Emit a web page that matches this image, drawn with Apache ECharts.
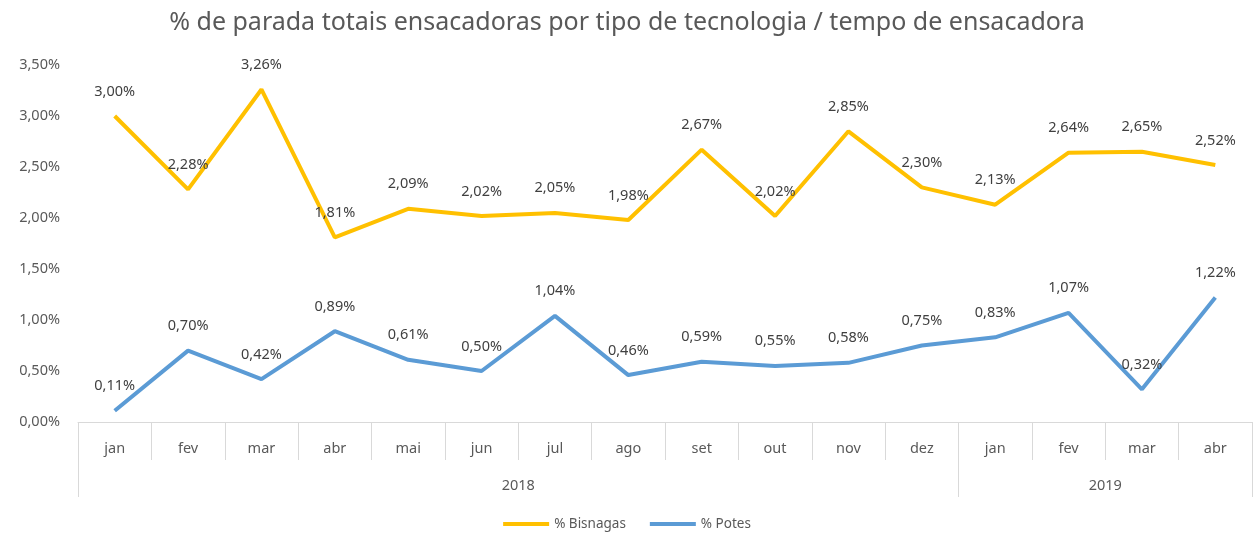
<!DOCTYPE html>
<html><head><meta charset="utf-8">
<script src="https://cdn.jsdelivr.net/npm/echarts@6/dist/echarts.min.js"></script>
<style>html,body{margin:0;padding:0;background:#fff}#c{width:1254px;height:537px}</style>
</head><body><div id="c"></div>
<script>
const months = ['jan','fev','mar','abr','mai','jun','jul','ago','set','out','nov','dez','jan','fev','mar','abr'];
const years = ['2018','2019'];
const yearStarts = [0, 12, 16];
const bisnagas = [3.00,2.28,3.26,1.81,2.09,2.02,2.05,1.98,2.67,2.02,2.85,2.30,2.13,2.64,2.65,2.52];
const potes = [0.11,0.70,0.42,0.89,0.61,0.50,1.04,0.46,0.59,0.55,0.58,0.75,0.83,1.07,0.32,1.22];

const FONT = '"Noto Sans", "Open Sans", sans-serif';
const fmt = v => v.toFixed(2).replace('.', ',') + '%';
const chart = echarts.init(document.getElementById('c'));
const lbl = {show: true, position: 'top', distance: 17, formatter: p => fmt(p.value), fontFamily: FONT, fontSize: 14.5, color: '#404040'};
chart.setOption({
  animation: false,
  title: {text: '% de parada totais ensacadoras por tipo de tecnologia / tempo de ensacadora', left: 'center', top: 5,
    textStyle: {fontFamily: FONT, fontSize: 25, fontWeight: 'normal', color: '#595959'}},
  legend: {bottom: 1, left: 'center', itemWidth: 46, itemHeight: 4, itemGap: 24, icon: 'rect',
    textStyle: {fontFamily: FONT, fontSize: 13.5, color: '#595959'}},
  grid: {left: 78, right: 2, top: 65, bottom: 115, containLabel: false},
  xAxis: [{
    type: 'category', data: months, boundaryGap: true, position: 'bottom',
    axisLine: {lineStyle: {color: '#d9d9d9', width: 1}},
    axisTick: {show: true, length: 38, interval: 0, lineStyle: {color: '#d9d9d9'}},
    axisLabel: {interval: 0, margin: 19, fontFamily: FONT, fontSize: 14.5, color: '#595959'}
  }, {
    type: 'value', min: 0, max: 16, position: 'bottom', offset: 38,
    axisLine: {show: false},
    splitLine: {show: false},
    axisTick: {show: true, length: 37, customValues: yearStarts, lineStyle: {color: '#d9d9d9'}},
    axisLabel: {customValues: [6, 14], margin: 18, fontFamily: FONT, fontSize: 14.5, color: '#595959',
      formatter: v => v < 12 ? years[0] : years[1]}
  }],
  yAxis: {
    type: 'value', min: 0, max: 3.5, interval: 0.5,
    axisLine: {show: false}, axisTick: {show: false}, splitLine: {show: false},
    axisLabel: {fontFamily: FONT, fontSize: 14.5, color: '#595959', margin: 18, formatter: v => fmt(v)}
  },
  series: [{
    name: '% Bisnagas', type: 'line', data: bisnagas, symbol: 'circle', symbolSize: 0.1, showSymbol: true, xAxisIndex: 0,
    lineStyle: {color: '#FFC000', width: 4}, itemStyle: {color: '#FFC000'}, label: lbl
  }, {
    name: '% Potes', type: 'line', data: potes, symbol: 'circle', symbolSize: 0.1, showSymbol: true, xAxisIndex: 0,
    lineStyle: {color: '#5B9BD5', width: 4}, itemStyle: {color: '#5B9BD5'}, label: lbl
  }]
});
</script></body></html>
